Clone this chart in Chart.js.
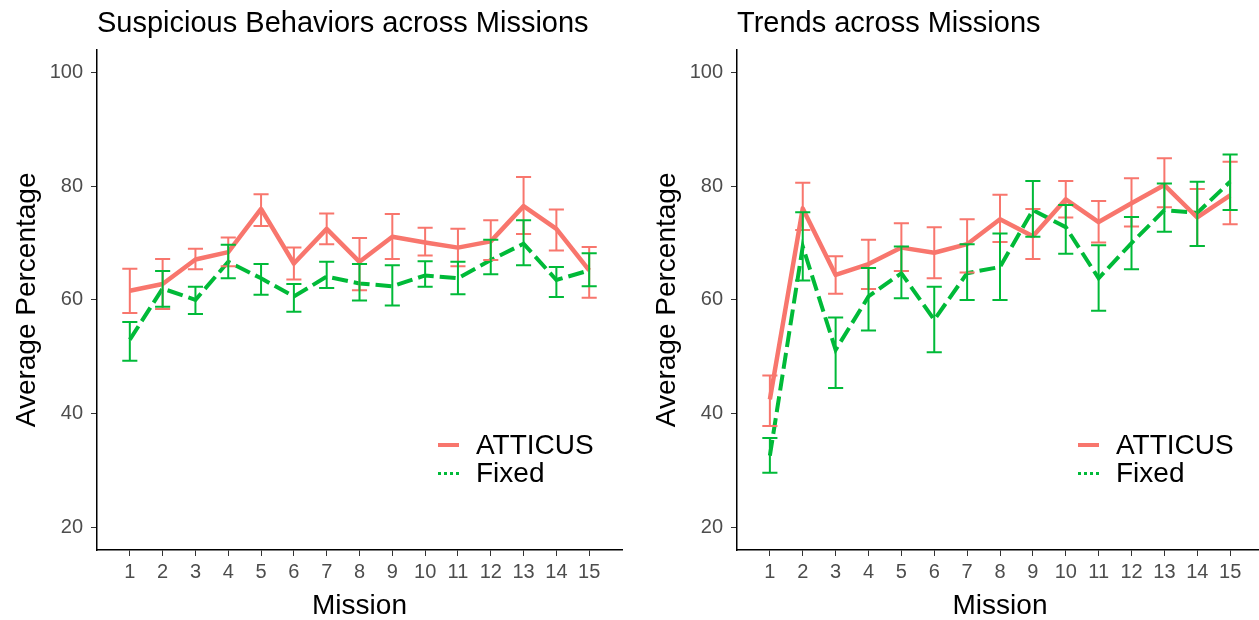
<!DOCTYPE html>
<html>
<head>
<meta charset="utf-8">
<script src="https://cdn.jsdelivr.net/npm/chart.js@4/dist/chart.umd.min.js"></script>
<style>
  body { margin: 0; width: 1259px; height: 620px; overflow: hidden; background: #fff; font-family: "Liberation Sans", Arial, sans-serif; }
  .panel { position: absolute; top: 0; width: 630px; height: 620px; }
  .legend { position: absolute; font-size: 28px; color: #000; line-height: 28px; }
  .legend .row { display: flex; align-items: center; height: 28px; }
  .legend .key { width: 21px; margin-right: 17px; }
  .key.solid { border-top: 4px solid #F8766D; }
  .key.dashed { border-top: 3px dotted #00BA38; }
</style>
</head>
<body>
<div class="panel" style="left:0"><canvas id="leftChart" width="630" height="620"></canvas></div>
<div class="panel" style="left:640px"><canvas id="rightChart" width="630" height="620"></canvas></div>

<div class="legend" style="left:438px; top:431px">
  <div class="row"><div class="key solid"></div>ATTICUS</div>
  <div class="row"><div class="key dashed"></div>Fixed</div>
</div>
<div class="legend" style="left:1078px; top:431px">
  <div class="row"><div class="key solid"></div>ATTICUS</div>
  <div class="row"><div class="key dashed"></div>Fixed</div>
</div>

<script>
const missions = [1, 2, 3, 4, 5, 6, 7, 8, 9, 10, 11, 12, 13, 14, 15];
const yTicks = [20, 40, 60, 80, 100];

// Suspicious behaviors
const suspAtticusMean = [61.6, 62.8, 67.1, 68.4, 76.0, 66.4, 72.5, 66.7, 71.1, 70.1, 69.2, 70.3, 76.5, 72.5, 65.2];
const suspAtticusLow  = [57.7, 58.4, 65.4, 65.9, 73.0, 63.6, 69.8, 61.7, 67.2, 67.8, 65.9, 67.0, 71.6, 68.7, 60.4];
const suspAtticusHigh = [65.5, 67.2, 69.0, 71.0, 78.6, 69.2, 75.2, 70.9, 75.1, 72.7, 72.5, 74.0, 81.6, 75.9, 69.3];
const suspFixedMean = [53.0, 62.0, 60.0, 66.7, 63.8, 60.6, 64.1, 62.9, 62.4, 64.3, 63.8, 67.0, 69.9, 63.5, 65.2];
const suspFixedLow  = [49.3, 58.8, 57.5, 63.8, 60.9, 57.9, 62.1, 59.9, 59.0, 62.3, 61.0, 64.5, 66.1, 60.5, 62.4];
const suspFixedHigh = [56.1, 65.1, 62.3, 69.7, 66.3, 62.8, 66.7, 66.3, 66.1, 66.8, 66.7, 70.6, 74.0, 65.8, 68.2];

// Trends
const trendAtticusMean = [42.5, 76.1, 64.4, 66.3, 69.2, 68.3, 69.8, 74.2, 71.2, 77.7, 73.7, 77.0, 80.2, 74.5, 78.4];
const trendAtticusLow  = [37.8, 72.3, 61.1, 61.9, 65.1, 63.8, 64.8, 70.2, 67.2, 74.5, 70.1, 72.9, 76.3, 69.5, 73.3];
const trendAtticusHigh = [46.7, 80.6, 67.7, 70.6, 73.5, 72.8, 74.2, 78.5, 76.0, 80.9, 77.4, 81.4, 84.9, 79.5, 84.3];
const trendFixedMean = [32.6, 69.4, 51.2, 60.6, 64.7, 56.5, 64.7, 65.8, 75.8, 72.8, 63.8, 70.0, 75.8, 75.3, 80.8];
const trendFixedLow  = [29.6, 63.4, 44.5, 54.6, 60.3, 50.8, 60.0, 60.0, 71.1, 68.1, 58.1, 65.4, 72.0, 69.5, 75.8];
const trendFixedHigh = [35.7, 75.4, 56.9, 65.6, 69.4, 62.3, 69.8, 71.7, 80.9, 76.7, 69.6, 74.6, 80.5, 80.8, 85.6];

const RED = '#F8766D';
const GREEN = '#00BA38';
const FONT = '"Liberation Sans", Arial, sans-serif';

// error bars (drawn through the chart scales)
const errorBars = {
    id: 'errorBars',
    afterDatasetsDraw(chart) {
        const ctx = chart.ctx;
        const xs = chart.scales.x;
        const ys = chart.scales.y;
        chart.data.datasets.forEach(ds => {
            ctx.save();
            ctx.strokeStyle = ds.borderColor;
            ctx.lineWidth = 2;
            ds.errLow.forEach((lo, j) => {
                const m = missions[j];
                const x = xs.getPixelForValue(m);
                const x0 = xs.getPixelForValue(m - 0.23);
                const x1 = xs.getPixelForValue(m + 0.23);
                const y0 = ys.getPixelForValue(lo);
                const y1 = ys.getPixelForValue(ds.errHigh[j]);
                ctx.beginPath();
                ctx.moveTo(x, y0); ctx.lineTo(x, y1);
                ctx.moveTo(x0, y0); ctx.lineTo(x1, y0);
                ctx.moveTo(x0, y1); ctx.lineTo(x1, y1);
                ctx.stroke();
            });
            ctx.restore();
        });
    }
};

function toPoints(vals) {
    return missions.map((m, i) => ({ x: m, y: vals[i] }));
}

function makeChart(id, titleText, aMean, aLow, aHigh, fMean, fLow, fHigh, rightPad) {
    return new Chart(document.getElementById(id), {
        type: 'line',
        data: {
            datasets: [
                {
                    label: 'ATTICUS',
                    data: toPoints(aMean),
                    errLow: aLow, errHigh: aHigh,
                    borderColor: RED,
                    borderWidth: 4.5,
                    pointRadius: 0,
                    tension: 0,
                    borderJoinStyle: 'round'
                },
                {
                    label: 'Fixed',
                    data: toPoints(fMean),
                    errLow: fLow, errHigh: fHigh,
                    borderColor: GREEN,
                    borderWidth: 4,
                    borderDash: [16, 6],
                    pointRadius: 0,
                    tension: 0
                }
            ]
        },
        options: {
            responsive: false,
            animation: false,
            layout: { padding: { left: 0, right: rightPad, top: 0, bottom: 0 } },
            plugins: {
                legend: { display: false },
                tooltip: { enabled: false },
                title: {
                    display: true,
                    text: titleText,
                    align: 'start',
                    fullSize: false,
                    color: '#000',
                    font: { family: FONT, size: 29, weight: 'normal' },
                    padding: { top: 7, bottom: 8 }
                }
            },
            scales: {
                x: {
                    type: 'linear',
                    min: 0,
                    max: 16,
                    afterBuildTicks: s => { s.ticks = missions.map(v => ({ value: v })); },
                    afterFit: s => { s.height = 70; },
                    grid: { drawOnChartArea: false, drawTicks: true, tickLength: 6, color: '#333' },
                    border: { color: '#000', width: 1.5 },
                    ticks: { color: '#4D4D4D', font: { family: FONT, size: 20 }, padding: 4, maxRotation: 0, autoSkip: false },
                    title: { display: true, text: 'Mission', color: '#000', font: { family: FONT, size: 28, lineHeight: 1.0 }, padding: { top: 0, bottom: 0 } }
                },
                y: {
                    min: 16,
                    max: 104,
                    afterBuildTicks: s => { s.ticks = yTicks.map(v => ({ value: v })); },
                    afterFit: s => { s.width = 97; },
                    grid: { drawOnChartArea: false, drawTicks: true, tickLength: 6, color: '#333' },
                    border: { color: '#000', width: 1.5 },
                    ticks: { color: '#4D4D4D', font: { family: FONT, size: 20 }, padding: 8 },
                    title: { display: true, text: 'Average Percentage', color: '#000', font: { family: FONT, size: 28 }, padding: { top: 10, bottom: 0 } }
                }
            }
        },
        plugins: [errorBars]
    });
}

makeChart('leftChart', 'Suspicious Behaviors across Missions',
    suspAtticusMean, suspAtticusLow, suspAtticusHigh, suspFixedMean, suspFixedLow, suspFixedHigh, 8);
makeChart('rightChart', 'Trends across Missions',
    trendAtticusMean, trendAtticusLow, trendAtticusHigh, trendFixedMean, trendFixedLow, trendFixedHigh, 7);
</script>
</body>
</html>
